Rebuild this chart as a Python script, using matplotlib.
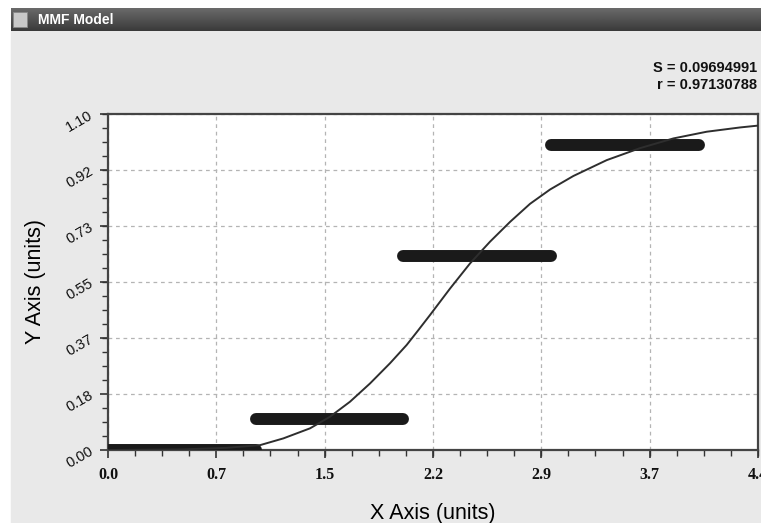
import numpy as np
import matplotlib
matplotlib.use('Agg')
import matplotlib.pyplot as plt
from matplotlib.patches import Rectangle
from matplotlib.ticker import FixedLocator, AutoMinorLocator

# 数据
step_x_start = [0.0, 1.0, 2.0, 3.0]
step_x_end = [1.0, 2.0, 3.0, 4.0]
step_y = [0.0, 0.10, 0.635, 1.0]

curve_x = [0.0, 0.5, 0.8, 1.03, 1.187, 1.368, 1.503, 1.638, 1.774, 1.909, 2.022,
           2.10, 2.18, 2.316, 2.451, 2.586, 2.722, 2.857, 2.993, 3.15, 3.376,
           3.60, 3.827, 4.053, 4.279, 4.40]
curve_y = [0.0, 0.002, 0.007, 0.016, 0.038, 0.071, 0.109, 0.158, 0.218, 0.284, 0.344,
           0.392, 0.442, 0.529, 0.611, 0.682, 0.747, 0.806, 0.853, 0.897, 0.949,
           0.988, 1.020, 1.042, 1.056, 1.062]

x_ticks = [0.0, 0.7333, 1.4667, 2.2, 2.9333, 3.6667, 4.4]
x_labels = ['0.0', '0.7', '1.5', '2.2', '2.9', '3.7', '4.4']
y_ticks = [0.0, 0.1833, 0.3667, 0.55, 0.7333, 0.9167, 1.1]
y_labels = ['0.00', '0.18', '0.37', '0.55', '0.73', '0.92', '1.10']

title = 'MMF Model'
stats = ['S = 0.09694991', 'r = 0.97130788']

W, H = 761, 523
fig = plt.figure(figsize=(W / 100, H / 100), dpi=100, facecolor='white')

# 灰色背景和标题栏
bg = fig.add_axes([0, 0, 1, 1])
bg.axis('off')
bg.add_patch(Rectangle((11, 31), W - 11, H - 31, color='#e9e9e9'))
grad = np.linspace(0, 1, 50).reshape(-1, 1)
cmap = matplotlib.colors.LinearSegmentedColormap.from_list('bar', ['#6a6a6a', '#3a3a3a'])
bg.imshow(grad, extent=(11, W, 31, 8), cmap=cmap, aspect='auto', zorder=1)
bg.add_patch(Rectangle((13, 12), 14, 15, facecolor='#c8c8c8', edgecolor='#888888', lw=0.6, zorder=2))
bg.text(38, 19.5, title, color='white', fontsize=10, fontweight='bold',
        family='Liberation Sans', va='center', ha='left', zorder=3)
bg.set_xlim(0, W)
bg.set_ylim(H, 0)
for i, s in enumerate(stats):
    bg.text(757, 68 + i * 17, s, fontsize=10.5, fontweight='bold', ha='right', va='center',
            family='Liberation Sans', color='#111111')

# 主图
ax = fig.add_axes([108 / W, (H - 450) / H, (758 - 108) / W, (450 - 114) / H])
ax.set_facecolor('white')
for xs, xe, y in zip(step_x_start, step_x_end, step_y):
    ax.plot([xs, xe], [y, y], color='#1a1a1a', lw=8.6, solid_capstyle='round', zorder=3)
ax.plot(curve_x, curve_y, color='#2e2e2e', lw=1.4, zorder=4)

ax.set_xlim(0, 4.4)
ax.set_ylim(0, 1.1)
ax.xaxis.set_major_locator(FixedLocator(x_ticks))
ax.yaxis.set_major_locator(FixedLocator(y_ticks))
ax.set_xticklabels(x_labels, family='Liberation Serif', fontweight='bold', fontsize=11.5)
ax.set_yticklabels(y_labels, family='Liberation Sans', fontsize=10.5, rotation=30)
ax.xaxis.set_minor_locator(AutoMinorLocator(4))
ax.yaxis.set_minor_locator(AutoMinorLocator(4))
ax.tick_params(which='major', length=6, width=1.2, color='#333333', direction='out', labelcolor='#111111')
ax.tick_params(which='minor', length=4, width=1.0, color='#333333', direction='out')
ax.tick_params(axis='x', pad=6)
ax.tick_params(axis='y', pad=3)
for sp in ax.spines.values():
    sp.set_color('#444444')
    sp.set_linewidth(1.6)
ax.grid(True, which='major', color='#b4b4b4', linestyle=(0, (3, 3)), lw=0.9)

ax.set_xlabel('X Axis (units)', family='Liberation Sans', fontsize=15.5, labelpad=15)
ax.set_ylabel('Y Axis (units)', family='Liberation Sans', fontsize=15.5, labelpad=13)

fig.savefig('out.png', dpi=100, facecolor='white')
